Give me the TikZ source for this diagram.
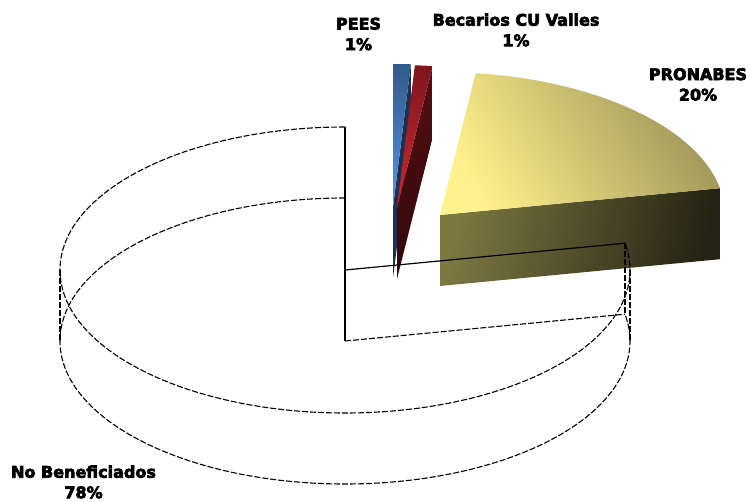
\documentclass[tikz,border=0pt]{standalone}
\usepackage{fontspec}
\setmainfont{DejaVu Sans}
\newfontfamily\chartfont{DejaVu Sans}[UprightFont={* Bold}, FakeBold=4]
\usetikzlibrary{calc,positioning}
\definecolor{pronabesLight}{RGB}{255,242,140}
\definecolor{pronabesDark}{RGB}{158,148,88}
\definecolor{pronabesSideL}{RGB}{125,120,65}
\definecolor{pronabesSideR}{RGB}{36,34,20}
\definecolor{peesLight}{RGB}{85,150,228}
\definecolor{peesDark}{RGB}{50,90,140}
\definecolor{peesSide}{RGB}{28,48,80}
\definecolor{becaLight}{RGB}{205,38,48}
\definecolor{becaDark}{RGB}{125,22,30}
\definecolor{becaSide}{RGB}{72,12,16}

\begin{document}
\begin{tikzpicture}[x=1pt, y=1pt,
    pie label/.style={font=\chartfont\fontsize{16}{20.5}\selectfont, align=center, inner sep=0pt},
    wire/.style={black, line width=1.1pt, dash pattern=on 6pt off 2pt},
    edge line/.style={black, line width=1.2pt}]
    \useasboundingbox (0,0) rectangle (749,501);
    \coordinate (nb) at (345,231);
    \coordinate (nb base) at (345,160);
    \coordinate (pronabes) at (440,286);
    \coordinate (pees) at (393,294);
    \coordinate (becarios) at (397,293);

    \shade[left color=pronabesSideL, right color=pronabesSideR, shading angle=80] (pronabes) -- ($(pronabes)+(10.8:285 and 143)$) -- ++(0,-71) -- ($(pronabes)+(0,-71)$) -- cycle;
    \shade[top color=pronabesDark, bottom color=pronabesLight, shading angle=-60] (pronabes) -- ($(pronabes)+(10.8:285 and 143)$) arc[start angle=10.8, end angle=82.8, x radius=285, y radius=143] -- cycle;

    \fill[peesSide] (pees) -- ($(pees)+(86.4:285 and 143)$) -- ++(0,-71) -- ($(pees)+(0,-71)$) -- cycle;
    \shade[top color=peesDark, bottom color=peesLight] (pees) -- ($(pees)+(86.4:285 and 143)$) arc[start angle=86.4, end angle=90, x radius=285, y radius=143] -- cycle;

    \shade[top color=becaSide!80!becaDark, bottom color=becaSide!70!black] (becarios) -- ($(becarios)+(82.8:285 and 143)$) -- ++(0,-71) -- ($(becarios)+(0,-71)$) -- cycle;
    \shade[top color=becaDark, bottom color=becaLight] (becarios) -- ($(becarios)+(82.8:285 and 143)$) arc[start angle=82.8, end angle=86.4, x radius=285, y radius=143] -- cycle;

    \draw[wire] ($(nb)+(90:285 and 143)$) arc[start angle=90, end angle=370.8, x radius=285, y radius=143];
    \draw[wire] ($(nb base)+(90:285 and 143)$) arc[start angle=90, end angle=370.8, x radius=285, y radius=143];
    \draw[wire] (nb base) -- ($(nb base)+(10.8:285 and 143)$);
    \foreach \a in {0,10.8,180}
        \draw[wire] ($(nb)+(\a:285 and 143)$) -- ($(nb base)+(\a:285 and 143)$);
    \draw[edge line] ($(nb)+(90:285 and 143)$) -- (nb) -- (nb base);
    \draw[edge line] (nb) -- ($(nb)+(10.8:285 and 143)$);

    \node[pie label] (pees label) at (358.5,467) {PEES\\1\%};
    \node[pie label] (becarios label) at (516,471) {Becarios CU Valles\\1\%};
    \node[pie label] (pronabes label) at (698,416.5) {PRONABES\\20\%};
    \node[pie label] (nb label) at (83.5,19) {No Beneficiados\\78\%};
\end{tikzpicture}
\end{document}
